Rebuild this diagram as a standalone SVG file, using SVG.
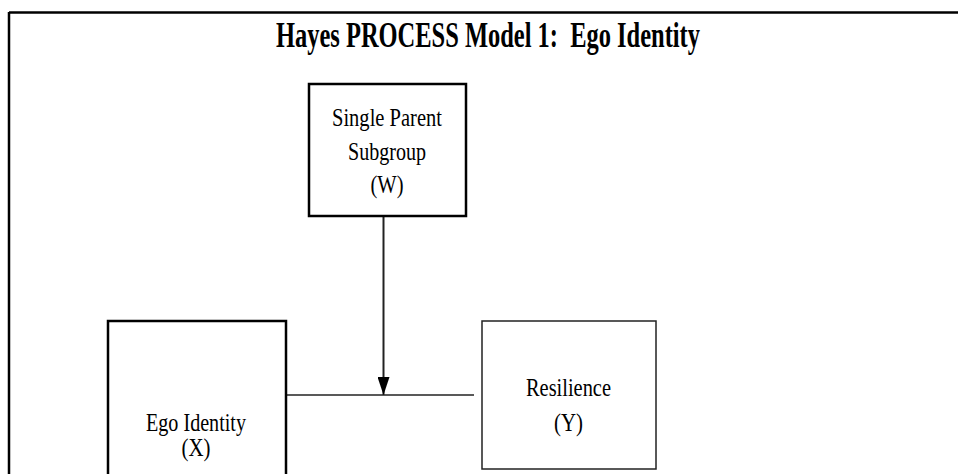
<svg xmlns="http://www.w3.org/2000/svg" width="958" height="474" viewBox="0 0 958 474">
  <style>
    text { font-family: "Liberation Serif", "Tinos", "Times New Roman", "DejaVu Serif", serif; white-space: pre; }
    .t { font-size: 25px; fill: #000; text-anchor: middle; }
    .title { font-size: 35px; font-weight: bold; fill: #000; text-anchor: middle; }
    .box { fill: #fff; stroke: #000; stroke-width: 2.5; }
    .boxthin { fill: #fff; stroke: #222; stroke-width: 1.5; }
    .conn { stroke: #222; fill: none; }
  </style>
  <defs>
    <marker id="arrow" markerUnits="userSpaceOnUse" markerWidth="18" markerHeight="12" refX="18" refY="6" orient="auto" viewBox="0 0 18 12">
      <path d="M0,0 L18,6 L0,12 Z" fill="#000"/>
    </marker>
  </defs>
  <rect width="958" height="474" fill="#fff"/>
  <g id="frame">
    <line x1="9" y1="12.5" x2="958" y2="12.5" stroke="#000" stroke-width="2.5"/>
    <line x1="9" y1="12" x2="9" y2="474" stroke="#000" stroke-width="2.5"/>
  </g>
  <text class="title" x="488" y="47" textLength="424" lengthAdjust="spacingAndGlyphs" xml:space="preserve">Hayes PROCESS Model 1:  Ego Identity</text>
  <g id="connectors">
    <line class="conn" x1="286" y1="395" x2="474" y2="395" stroke-width="1.5"/>
    <line class="conn" x1="383.5" y1="216" x2="383.5" y2="395" stroke-width="2" stroke="#000" marker-end="url(#arrow)"/>
  </g>
  <g id="node-w">
    <rect class="box" x="309" y="84" width="157" height="132"/>
    <text class="t" x="387" y="126" textLength="110" lengthAdjust="spacingAndGlyphs">Single Parent</text>
    <text class="t" x="387" y="160" textLength="78" lengthAdjust="spacingAndGlyphs">Subgroup</text>
    <text class="t" x="387" y="193" textLength="33" lengthAdjust="spacingAndGlyphs">(W)</text>
  </g>
  <g id="node-x">
    <rect class="box" x="108" y="321" width="178" height="155"/>
    <text class="t" x="196" y="431" textLength="100" lengthAdjust="spacingAndGlyphs">Ego Identity</text>
    <text class="t" x="196" y="456" textLength="29" lengthAdjust="spacingAndGlyphs">(X)</text>
  </g>
  <g id="node-y">
    <rect class="boxthin" x="482" y="321" width="174" height="148"/>
    <text class="t" x="568.5" y="396" textLength="85" lengthAdjust="spacingAndGlyphs">Resilience</text>
    <text class="t" x="568.5" y="431" textLength="29" lengthAdjust="spacingAndGlyphs">(Y)</text>
  </g>
</svg>
